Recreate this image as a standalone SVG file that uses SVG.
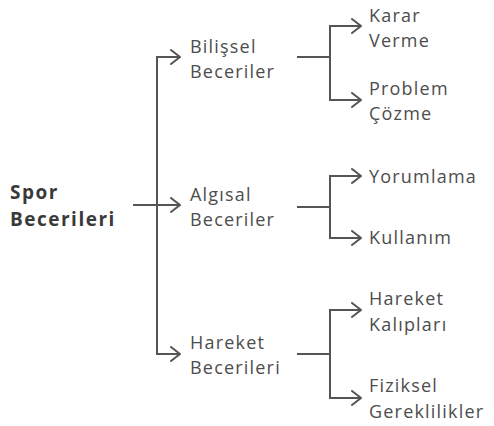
<svg xmlns="http://www.w3.org/2000/svg" width="494" height="426" viewBox="0 0 494 426">
<defs>
<marker id="ah" viewBox="0 0 12 16" refX="11" refY="8" markerWidth="12" markerHeight="16" markerUnits="userSpaceOnUse" orient="auto">
<path d="M2 1 L11 8 L2 15" fill="none" stroke="#555" stroke-width="2" stroke-linecap="round" stroke-linejoin="round"/>
</marker>
<style>
.c{fill:none;stroke:#555;stroke-width:2;stroke-linejoin:miter}
.a{marker-end:url(#ah)}
.t{font-family:"Open Sans","Liberation Sans",sans-serif;font-size:18px;fill:#4d4d4d;letter-spacing:1.2px}
.r{font-family:"Open Sans","Liberation Sans",sans-serif;font-size:19px;font-weight:bold;fill:#3a3a3a;letter-spacing:1.5px}
</style>
</defs>
<rect width="494" height="426" fill="#ffffff"/>
<g id="connectors">
<path class="c a" d="M133 205 H180"/>
<path class="c a" d="M157 205 V57 H180"/>
<path class="c a" d="M157 205 V354 H180"/>
<path class="c" d="M297 57 H330"/>
<path class="c a" d="M330 57 V26 H361"/>
<path class="c a" d="M330 57 V100 H361"/>
<path class="c" d="M297 207 H330"/>
<path class="c a" d="M330 207 V176 H361"/>
<path class="c a" d="M330 207 V238 H361"/>
<path class="c" d="M297 354 H330"/>
<path class="c a" d="M330 354 V310 H361"/>
<path class="c a" d="M330 354 V398 H361"/>
</g>
<g id="root"><text class="r" x="10" y="199">Spor</text><text class="r" x="10" y="226">Becerileri</text></g>
<g id="bilissel"><text class="t" x="190" y="53">Bilişsel</text><text class="t" x="190" y="78">Beceriler</text></g>
<g id="algisal"><text class="t" x="190" y="201">Algısal</text><text class="t" x="190" y="226">Beceriler</text></g>
<g id="hareket"><text class="t" x="190" y="349">Hareket</text><text class="t" x="190" y="374">Becerileri</text></g>
<g id="karar"><text class="t" x="369" y="22">Karar</text><text class="t" x="369" y="47">Verme</text></g>
<g id="problem"><text class="t" x="369" y="95">Problem</text><text class="t" x="369" y="120">Çözme</text></g>
<g id="yorumlama"><text class="t" x="369" y="183">Yorumlama</text></g>
<g id="kullanim"><text class="t" x="369" y="244">Kullanım</text></g>
<g id="kaliplar"><text class="t" x="369" y="305">Hareket</text><text class="t" x="369" y="331">Kalıpları</text></g>
<g id="fiziksel"><text class="t" x="369" y="392">Fiziksel</text><text class="t" x="369" y="418">Gereklilikler</text></g>
</svg>
